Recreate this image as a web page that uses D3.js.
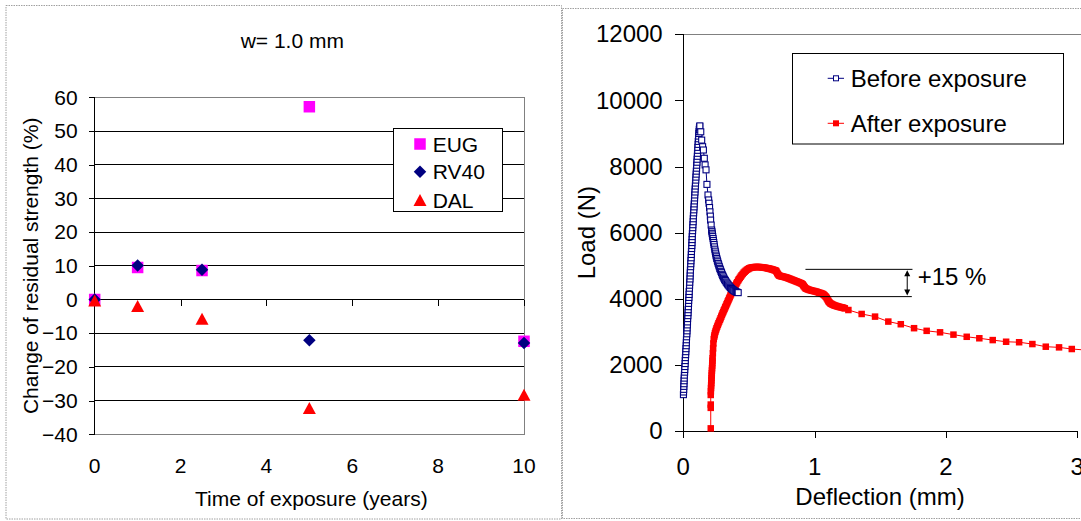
<!DOCTYPE html>
<html><head><meta charset="utf-8">
<script src="https://cdn.jsdelivr.net/npm/d3@7"></script>
<style>body{margin:0;background:#fff}svg{display:block}text{font-family:"Liberation Sans",Arial,sans-serif;fill:#000}</style>
</head><body><svg id="c" width="1081" height="521"></svg>
<script>
// ---------- Left chart data ----------
const leftTitle = "w= 1.0 mm";
const timeYears = [0, 1, 2.5, 5, 10];
const eugValues = [0, 9.5, 8.6, 57.2, -12.4];
const rv40Values = [0, 10.1, 8.8, -12.1, -12.9];
const dalValues = [-0.3, -1.9, -5.7, -32.2, -28.3];
const leftXTicks = [0, 2, 4, 6, 8, 10];
const leftYTicks = [-40, -30, -20, -10, 0, 10, 20, 30, 40, 50, 60];
const leftSeriesNames = ["EUG", "RV40", "DAL"];

// ---------- Right chart data ----------
const beforeDeflection = [0.001,0.002,0.003,0.004,0.005,0.006,0.007,0.008,0.010,0.011,0.012,0.014,0.015,0.016,0.018,0.019,0.020,0.022,0.023,0.024,0.025,0.027,0.028,0.029,0.031,0.032,0.033,0.035,0.036,0.037,0.039,0.040,0.041,0.043,0.044,0.045,0.047,0.048,0.049,0.051,0.052,0.053,0.054,0.056,0.057,0.058,0.060,0.061,0.062,0.064,0.065,0.066,0.067,0.068,0.069,0.071,0.072,0.073,0.075,0.076,0.077,0.079,0.080,0.082,0.083,0.085,0.086,0.087,0.089,0.090,0.092,0.093,0.095,0.096,0.098,0.099,0.101,0.102,0.104,0.105,0.107,0.108,0.110,0.111,0.113,0.114,0.116,0.117,0.119,0.120,0.122,0.123,0.125,0.126,
  0.133,0.140,0.147,0.153,0.160,0.166,0.173,0.180,0.188,0.193,0.196,0.200,0.203,0.206,0.208,0.212,0.216,0.218,0.220,0.222,0.224,0.227,0.229,0.232,0.234,0.237,0.240,0.243,0.246,0.249,0.252,0.255,0.259,0.262,0.266,0.270,0.274,0.278,0.282,0.287,0.291,0.296,0.300,0.305,0.310,0.315,0.320,0.326,0.331,0.337,0.342,0.348,0.354,0.360,0.366,0.373,0.380,0.386,0.393,0.399,0.406,0.412,0.418];
const beforeLoad = [1100,1180,1260,1350,1430,1520,1600,1690,1780,1860,1950,2040,2130,2220,2310,2400,2490,2580,2670,2760,2850,2940,3030,3120,3210,3300,3400,3490,3580,3670,3760,3860,3950,4040,4130,4220,4320,4410,4500,4600,4690,4780,4870,4970,5060,5150,5240,5340,5430,5520,5610,5700,5790,5880,5970,6060,6150,6240,6330,6420,6510,6600,6690,6780,6870,6960,7050,7140,7230,7320,7410,7500,7590,7680,7770,7860,7950,8040,8130,8220,8310,8400,8490,8580,8670,8760,8840,8920,9000,9060,9120,9170,9210,9230,
  9050,8800,8600,8500,8250,8050,7900,7460,7140,6990,6890,6760,6630,6500,6380,6230,6080,6030,5980,5930,5880,5820,5760,5700,5640,5570,5500,5440,5380,5320,5270,5220,5170,5120,5070,5020,4970,4920,4880,4830,4790,4740,4700,4660,4620,4580,4550,4510,4480,4450,4420,4390,4360,4335,4310,4285,4265,4245,4230,4215,4200,4192,4185];
const afterDeflection = [0.209,0.209,0.209,0.209,0.210,0.211,0.212,0.213,0.214,0.215,0.216,0.217,0.218,0.219,0.220,0.221,0.222,0.223,0.225,0.227,0.229,0.232,0.235,0.238,0.241,0.245,0.249,0.253,0.258,0.263,0.268,0.273,0.279,0.284,0.289,0.294,0.299,0.304,0.309,0.314,0.319,0.324,0.329,0.334,0.339,0.344,0.349,0.354,0.359,0.364,0.370,0.375,0.381,0.386,0.392,0.398,0.404,0.410,0.417,0.423,0.430,0.437,0.444,0.452,0.460,0.468,0.476,0.485,0.494,0.502,0.511,0.520,0.529,0.538,0.547,0.556,0.565,0.574,0.583,0.592,0.601,0.610,0.619,0.628,0.637,0.645,0.652,0.660,0.667,0.675,0.682,0.690,0.697,0.705,0.710,0.715,0.720,0.725,0.731,0.738,0.745,0.752,0.760,0.768,0.776,0.784,0.792,0.800,0.808,0.816,0.824,0.832,0.840,0.848,0.856,0.864,0.872,0.880,0.888,0.895,0.902,0.908,0.913,0.918,0.924,0.930,0.937,0.945,0.953,0.962,0.971,0.980,0.989,0.998,1.007,1.016,1.025,1.034,1.042,1.050,1.057,1.064,1.070,1.076,1.082,1.088,1.093,1.098,1.103,1.108,1.114,1.120,1.127,1.134,1.142,1.150,1.158,1.166,1.174,1.182,1.190,1.198,1.206,1.214,1.222,1.230,1.257,
  1.358,1.460,1.561,1.656,1.757,1.853,1.955,2.057,2.158,2.254,2.356,2.458,2.557,2.658,2.760,2.861,2.958,3.060];
const afterLoad = [80,700,800,1090,1200,1300,1380,1450,1530,1600,1680,1750,1830,1900,1980,2050,2130,2200,2350,2500,2650,2780,2850,2900,2960,3010,3060,3110,3160,3210,3260,3310,3360,3410,3460,3510,3560,3600,3650,3690,3740,3780,3830,3870,3920,3960,4010,4050,4100,4140,4190,4230,4280,4320,4370,4410,4460,4500,4550,4590,4630,4670,4710,4750,4790,4820,4850,4880,4900,4920,4935,4945,4952,4956,4960,4962,4962,4960,4958,4955,4950,4945,4940,4933,4926,4920,4912,4905,4898,4890,4880,4870,4860,4850,4820,4780,4750,4720,4700,4690,4682,4675,4668,4660,4652,4645,4632,4620,4608,4595,4582,4570,4558,4545,4532,4520,4508,4495,4482,4470,4455,4440,4410,4380,4350,4320,4305,4290,4278,4265,4255,4245,4238,4230,4220,4210,4198,4185,4175,4165,4152,4140,4120,4100,4075,4050,4015,3980,3945,3910,3885,3860,3845,3830,3815,3800,3790,3780,3770,3760,3752,3745,3738,3730,3720,3710,3660,
  3540,3460,3310,3230,3110,3030,2985,2915,2850,2805,2750,2700,2685,2630,2550,2530,2480,2450];
const rightXTicks = [0, 1, 2, 3];
const rightYTicks = [0, 2000, 4000, 6000, 8000, 10000, 12000];
const rightSeriesNames = ["Before exposure", "After exposure"];
const annotationText = "+15 %";
const annotationUpper = {load: 4890, x0: 0.93, x1: 1.745};
const annotationLower = {load: 4065, x0: 0.488, x1: 1.74};
const annotationArrowX = 1.705;

const svg = d3.select("#c");
const FONT_L = 21, FONT_R = 24;

// panel borders (dotted)
svg.append("rect").attr("x",6).attr("y",5.5).attr("width",555.5).attr("height",513.5)
  .attr("fill","none").attr("stroke","#a0a0a0").attr("stroke-dasharray","1.5,1");
svg.append("rect").attr("x",562.5).attr("y",8.5).attr("width",530).attr("height",510)
  .attr("fill","none").attr("stroke","#a0a0a0").attr("stroke-dasharray","1.5,1");

// ================= LEFT CHART =================
const xL = d3.scaleLinear().domain([0,10]).range([94.7,524]);
const yL = d3.scaleLinear().domain([-40,60]).range([434.3,97.3]);
const gL = svg.append("g");

gL.selectAll("line.grid").data(leftYTicks.filter(v=>v>-40 && v<60)).join("line")
  .attr("x1",xL(0)).attr("x2",xL(10)).attr("y1",d=>yL(d)).attr("y2",d=>yL(d))
  .attr("stroke","#000").attr("stroke-width",1).attr("shape-rendering","crispEdges");
gL.append("path").attr("d",`M${xL(0)},${yL(60)}H${xL(10)}V${yL(-40)}H${xL(0)}`)
  .attr("fill","none").attr("stroke","#808080").attr("shape-rendering","crispEdges");

const yAxisL = d3.axisLeft(yL).tickValues(leftYTicks).tickSize(6).tickPadding(11).tickFormat(d3.format("d"));
const gy = gL.append("g").attr("transform",`translate(${xL(0)},0)`).call(yAxisL);
gy.selectAll("text").style("font-size",FONT_L+"px").attr("fill","#000");
gy.selectAll("line,path").attr("stroke","#000").attr("shape-rendering","crispEdges");
gy.select(".domain").attr("d",`M-6,${yL(60)}H0V${yL(-40)}`);

const xAxisL = d3.axisBottom(xL).tickValues(leftXTicks).tickSize(6).tickFormat("");
const gx = gL.append("g").attr("transform",`translate(0,${yL(0)})`).call(xAxisL);
gx.selectAll("line,path").attr("stroke","#000").attr("shape-rendering","crispEdges");
gx.select(".domain").attr("d",`M${xL(0)},0H${xL(10)}`);
gL.selectAll("text.xl").data(leftXTicks).join("text")
  .attr("x",d=>xL(d)).attr("y",472.5).attr("text-anchor","middle")
  .style("font-size",FONT_L+"px").text(d=>d);

gL.append("text").attr("x",292.3).attr("y",47.5).attr("text-anchor","middle").style("font-size",FONT_L+"px").text(leftTitle);
gL.append("text").attr("x",(xL(0)+xL(10))/2+2).attr("y",505.5).attr("text-anchor","middle").style("font-size",FONT_L+"px").text("Time of exposure (years)");
gL.append("text").attr("transform",`translate(37.5,${(yL(60)+yL(-40))/2}) rotate(-90)`).attr("text-anchor","middle").style("font-size",FONT_L+"px").text("Change of residual strength (%)");

const sqPath = s => `M${-s/2},${-s/2}h${s}v${s}h${-s}Z`;
const diaPath = s => `M0,${-s/2}L${s/2},0L0,${s/2}L${-s/2},0Z`;
const triPath = (w,h) => `M0,${-h/2}L${w/2},${h/2}L${-w/2},${h/2}Z`;
const leftSeries = [
  {vals: eugValues, d: sqPath(11.5), fill: "#ff00ff"},
  {vals: rv40Values, d: diaPath(12.5), fill: "#000080"},
  {vals: dalValues, d: triPath(13,12), fill: "#ff0000"}
];
leftSeries.forEach(s=>{
  gL.selectAll(null).data(timeYears.map((t,i)=>[t,s.vals[i]])).join("path")
    .attr("d",s.d).attr("fill",s.fill)
    .attr("transform",d=>`translate(${xL(d[0])},${yL(d[1])})`);
});

gL.append("rect").attr("x",393.5).attr("y",128.5).attr("width",109).attr("height",83)
  .attr("fill","#fff").attr("stroke","#000");
const legY = [144, 171.7, 200];
leftSeries.forEach((s,i)=>{
  gL.append("path").attr("d",s.d).attr("fill",s.fill).attr("transform",`translate(420,${legY[i]})`);
  gL.append("text").attr("x",432.7).attr("y",legY[i]+7.5).style("font-size",FONT_L+"px").text(leftSeriesNames[i]);
});

// ================= RIGHT CHART =================
const xR = d3.scaleLinear().domain([0,3]).range([683.3,1077.3]);
const yR = d3.scaleLinear().domain([0,12000]).range([431,34.3]);
const gR = svg.append("g");

gR.append("line").attr("x1",xR(0)).attr("x2",1081).attr("y1",yR(12000)).attr("y2",yR(12000))
  .attr("stroke","#808080").attr("shape-rendering","crispEdges");

const yAxisR = d3.axisLeft(yR).tickValues(rightYTicks).tickSize(8).tickPadding(12.6).tickFormat(d3.format("d"));
const gyR = gR.append("g").attr("transform",`translate(${xR(0)},0)`).call(yAxisR);
gyR.selectAll("text").style("font-size",FONT_R+"px").attr("fill","#000");
gyR.selectAll("line,path").attr("stroke","#000").attr("shape-rendering","crispEdges");
gyR.select(".domain").attr("d",`M-8,${yR(12000)}H0V${yR(0)}`);

const xAxisR = d3.axisBottom(xR).tickValues(rightXTicks).tickSize(7).tickFormat("");
const gxR = gR.append("g").attr("transform",`translate(0,${yR(0)})`).call(xAxisR);
gxR.selectAll("line,path").attr("stroke","#000").attr("shape-rendering","crispEdges");
gxR.select(".domain").attr("d",`M${xR(0)},0H${xR(3)}`);
gR.selectAll("text.xr").data(rightXTicks).join("text")
  .attr("x",d=>xR(d)).attr("y",475).attr("text-anchor","middle")
  .style("font-size",FONT_R+"px").text(d=>d);

gR.append("text").attr("x",880).attr("y",505).attr("text-anchor","middle").style("font-size",FONT_R+"px").text("Deflection (mm)");
gR.append("text").attr("transform",`translate(595,${(yR(0)+yR(12000))/2}) rotate(-90)`).attr("text-anchor","middle").style("font-size",FONT_R+"px").text("Load (N)");

const line = d3.line().x(d=>xR(d[0])).y(d=>yR(d[1]));
const beforeData = beforeDeflection.map((x,i)=>[x,beforeLoad[i]]);
const afterData = afterDeflection.map((x,i)=>[x,afterLoad[i]]);

gR.append("path").attr("d",line(afterData)).attr("fill","none").attr("stroke","#ff0000").attr("stroke-width",1);
gR.selectAll("rect.af").data(afterData).join("rect").attr("class","af")
  .attr("x",d=>xR(d[0])-3.25).attr("y",d=>yR(d[1])-3.25).attr("width",6.5).attr("height",6.5).attr("fill","#ff0000");

gR.append("path").attr("d",line(beforeData)).attr("fill","none").attr("stroke","#000080").attr("stroke-width",1);
gR.selectAll("rect.bf").data(beforeData).join("rect").attr("class","bf")
  .attr("x",d=>xR(d[0])-3).attr("y",d=>yR(d[1])-3).attr("width",6).attr("height",6)
  .attr("fill","#fff").attr("stroke","#000080").attr("stroke-width",1.1);

gR.append("line").attr("x1",xR(annotationUpper.x0)).attr("x2",xR(annotationUpper.x1))
  .attr("y1",yR(annotationUpper.load)).attr("y2",yR(annotationUpper.load)).attr("stroke","#000");
gR.append("line").attr("x1",xR(annotationLower.x0)).attr("x2",xR(annotationLower.x1))
  .attr("y1",yR(annotationLower.load)).attr("y2",yR(annotationLower.load)).attr("stroke","#000");
const ax = xR(annotationArrowX), ay0 = yR(annotationUpper.load)+1, ay1 = yR(annotationLower.load)-1;
gR.append("line").attr("x1",ax).attr("x2",ax).attr("y1",ay0+3).attr("y2",ay1-3).attr("stroke","#000");
gR.append("path").attr("d",`M${ax},${ay0}l-3,6h6Z M${ax},${ay1}l-3,-6h6Z`).attr("fill","#000");
gR.append("text").attr("x",917.7).attr("y",284.5).style("font-size",FONT_R+"px").text(annotationText);

gR.append("rect").attr("x",792.5).attr("y",53.5).attr("width",271).attr("height",90.5)
  .attr("fill","#fff").attr("stroke","#000");
const rLeg = [{y:78.3,c:"#000080",fill:"#fff",s:5},{y:123.3,c:"#ff0000",fill:"#ff0000",s:6}];
rLeg.forEach((r,i)=>{
  gR.append("line").attr("x1",827.7).attr("x2",844).attr("y1",r.y).attr("y2",r.y).attr("stroke",r.c);
  gR.append("rect").attr("x",836-r.s/2).attr("y",r.y-r.s/2).attr("width",r.s).attr("height",r.s)
    .attr("fill",r.fill).attr("stroke",i===0?r.c:"none");
  gR.append("text").attr("x",850.7).attr("y",r.y+8.6).style("font-size",FONT_R+"px").text(rightSeriesNames[i]);
});
</script></body></html>
